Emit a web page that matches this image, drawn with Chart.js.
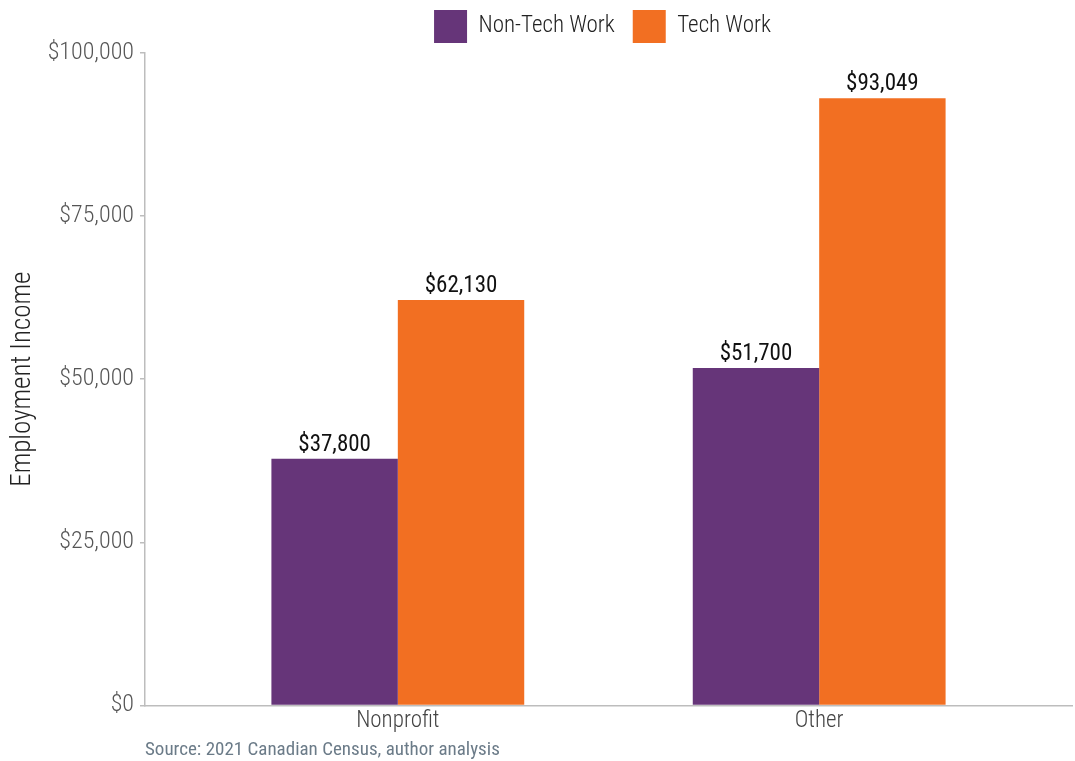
<!DOCTYPE html>
<html>
<head>
<meta charset="utf-8">
<script src="https://cdn.jsdelivr.net/npm/chart.js@4/dist/chart.umd.min.js"></script>
<style>
  html, body { margin: 0; padding: 0; background: #ffffff; }
  #wrap { width: 1075px; height: 761px; position: relative; }
</style>
</head>
<body>
<div id="wrap"><canvas id="chart" width="1075" height="761"></canvas></div>
<script>
// Employment income by sector and type of work
const categories = ['Nonprofit', 'Other'];
const nonTechIncome = [37800, 51700];
const techIncome = [62130, 93049];
const seriesNames = ['Non-Tech Work', 'Tech Work'];
const yTicks = [0, 25000, 50000, 75000, 100000];
const sourceNote = 'Source: 2021 Canadian Census, author analysis';

const FONT = '"Roboto Condensed", "Liberation Sans Narrow", "DejaVu Sans Condensed", Roboto, sans-serif';
const PURPLE = '#663579';
const ORANGE = '#F26F22';
const AXIS = '#BDBDBD';

const money = v => '$' + Math.round(v).toLocaleString('en-US');

// categories sit at x = 1, 2 on a continuous axis padded by 0.6 on each side
const toPoints = arr => arr.map((v, i) => ({ x: i + 1, y: v }));

// centre the legend over the plot area rather than the whole canvas
const legendOverPlot = {
  id: 'legendOverPlot',
  afterLayout(chart) {
    const lg = chart.legend;
    if (!lg) return;
    lg.left = chart.chartArea.left - 6;
    lg.right = chart.chartArea.right - 6;
  }
};

// value labels above every bar
const barLabels = {
  id: 'barLabels',
  afterDatasetsDraw(chart) {
    const ctx = chart.ctx;
    ctx.save();
    ctx.font = '400 23px ' + FONT;
    ctx.fillStyle = '#111111';
    ctx.textAlign = 'center';
    ctx.textBaseline = 'alphabetic';
    chart.data.datasets.forEach((ds, di) => {
      chart.getDatasetMeta(di).data.forEach((bar, i) => {
        ctx.fillText(money(ds.data[i].y), bar.x, bar.y - 8);
      });
    });
    ctx.restore();
  }
};

// source line under the plot, aligned to the plot's left edge
const sourceLine = {
  id: 'sourceLine',
  afterDraw(chart) {
    const ctx = chart.ctx;
    ctx.save();
    ctx.font = '400 19px ' + FONT;
    ctx.fillStyle = '#6B7B88';
    ctx.textAlign = 'left';
    ctx.textBaseline = 'middle';
    ctx.fillText(sourceNote, chart.chartArea.left, 750);
    ctx.restore();
  }
};

new Chart(document.getElementById('chart'), {
  type: 'bar',
  data: {
    datasets: [
      { label: seriesNames[0], data: toPoints(nonTechIncome), backgroundColor: PURPLE, borderWidth: 0 },
      { label: seriesNames[1], data: toPoints(techIncome), backgroundColor: ORANGE, borderWidth: 0 }
    ]
  },
  options: {
    responsive: false,
    animation: false,
    datasets: { bar: { categoryPercentage: 0.6, barPercentage: 1.0 } },
    layout: { padding: { top: -8, right: 3, bottom: 24, left: 0 } },
    plugins: {
      tooltip: { enabled: false },
      legend: {
        position: 'top',
        align: 'center',
        labels: {
          boxWidth: 33,
          boxHeight: 33,
          padding: 18,
          color: '#222222',
          font: { family: FONT, size: 23, weight: '300' }
        }
      }
    },
    scales: {
      x: {
        type: 'linear',
        offset: false,
        min: 0.4,
        max: 2.6,
        afterBuildTicks(axis) { axis.ticks = categories.map((c, i) => ({ value: i + 1 })); },
        ticks: {
          callback: v => categories[v - 1] || '',
          color: '#444444',
          font: { family: FONT, size: 23, weight: '300' },
          padding: 2,
          maxRotation: 0
        },
        grid: { display: false, drawTicks: false, tickLength: 0 },
        border: { display: true, color: AXIS, width: 1.5 }
      },
      y: {
        min: 0,
        max: 100000,
        afterBuildTicks(axis) { axis.ticks = yTicks.map(v => ({ value: v })); },
        afterFit(axis) { axis.width = 145; },
        ticks: {
          callback: v => money(v),
          color: '#555555',
          font: { family: FONT, size: 24, weight: '300' },
          padding: 6
        },
        grid: { drawOnChartArea: false, tickLength: 5, color: AXIS, lineWidth: 1.5 },
        border: { display: true, color: AXIS, width: 1.5 },
        title: {
          display: true,
          text: 'Employment Income',
          color: '#222222',
          font: { family: FONT, size: 27, weight: '300' },
          padding: 7
        }
      }
    }
  },
  plugins: [legendOverPlot, barLabels, sourceLine]
});
</script>
</body>
</html>
